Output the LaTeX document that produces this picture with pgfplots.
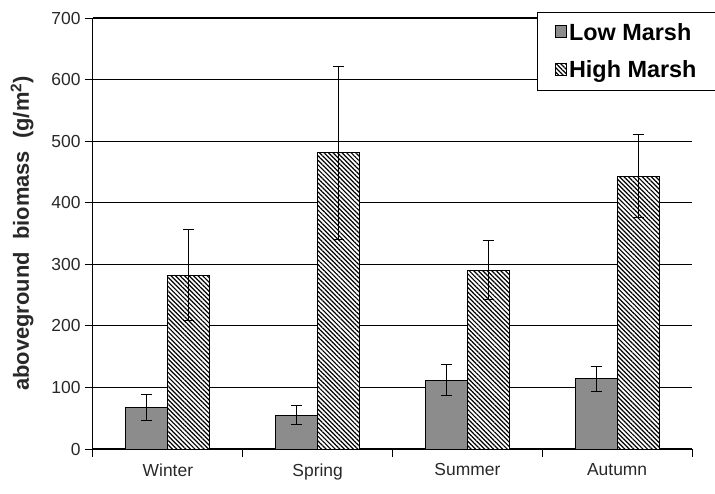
\documentclass[border=0pt]{standalone}
\usepackage{pgfplots}
\pgfplotsset{compat=1.18}
\usepackage{fontspec}
\setmainfont{Liberation Sans}
\usetikzlibrary{patterns.meta}
\definecolor{lowgray}{RGB}{140,140,140}
\definecolor{tickgray}{RGB}{40,40,40}
\begin{document}
\begin{tikzpicture}
\begin{axis}[
  scale only axis, width=599bp, height=431bp,
  at={(0bp,0bp)}, anchor=south west,
  ybar=0pt, bar width=0.28,
  xmin=0.5, xmax=4.5, ymin=0, ymax=700,
  xtick={1,2,3,4}, xticklabels={Winter,Spring,Summer,Autumn},
  minor xtick={0.5,1.5,2.5,3.5,4.5},
  major x tick style={draw=none},
  ytick={0,100,...,700},
  ymajorgrids, grid style={black, line width=1.1bp},
  axis x line*=bottom, axis y line*=left,
  axis line style={-, black, line width=1bp},
  tick align=outside, major tick length=8bp, minor tick length=8bp,
  tick style={black, line width=1bp},
  tick label style={font=\fontsize{17.5}{20}\selectfont, text=tickgray},
  /pgf/number format/assume math mode=true,
  xticklabel style={yshift=-3bp},
  yticklabel style={xshift=-1bp},
  ylabel={\textbf{aboveground\ \ biomass\ \ (g/m\textsuperscript{2})}},
  ylabel style={font=\fontsize{22}{25}\selectfont, text=tickgray,
    at={(axis description cs:-0.1185,0.5)}, anchor=center},
  legend style={at={(rel axis cs:0.741,1.014)}, anchor=north west, draw=black,
    line width=1bp, font=\bfseries\fontsize{23.5}{26}\selectfont,
    row sep=15bp, inner xsep=18bp, inner ysep=9bp, fill=white},
  legend image code/.code={\draw[#1, line width=0.7bp] (0bp,-5bp) rectangle (11bp,7bp);},
  legend cell align=left,
]
\addplot[fill=lowgray, draw=black, line width=1bp,
  error bars/.cd, y dir=both, y explicit,
  error bar style={black, line width=1bp},
  error mark options={rotate=90, mark size=5.5bp, line width=1bp, black}]
  coordinates {(1,68) +- (0,21) (2,55) +- (0,15) (3,112) +- (0,25) (4,114) +- (0,20.5)};
\addplot[fill=white, draw=black, line width=1bp,
  postaction={pattern={Lines[angle=-45,distance=3.2bp,line width=1.2bp]}},
  error bars/.cd, y dir=both, y explicit,
  error bar style={black, line width=1bp},
  error mark options={rotate=90, mark size=5.5bp, line width=1bp, black}]
  coordinates {(1,282) +- (0,74) (2,481) +- (0,140) (3,290) +- (0,48) (4,443) +- (0,67)};
\legend{Low Marsh, High Marsh}
\end{axis}
\pgfresetboundingbox
\path[use as bounding box] (-93bp,-45bp) rectangle (622bp,449bp);
\end{tikzpicture}
\end{document}
